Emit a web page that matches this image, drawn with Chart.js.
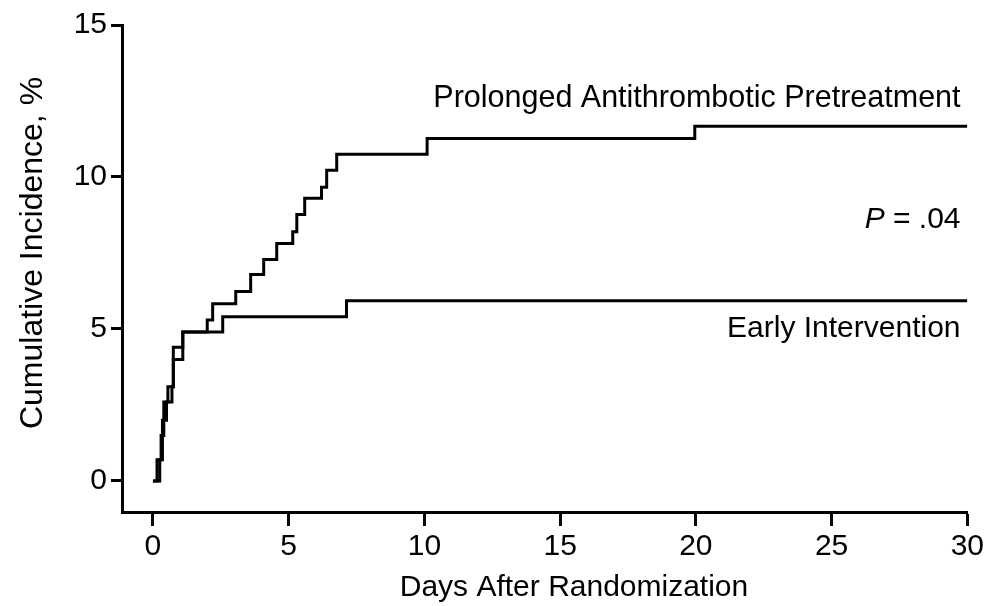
<!DOCTYPE html>
<html>
<head>
<meta charset="utf-8">
<script src="https://cdn.jsdelivr.net/npm/chart.js@4.4.1/dist/chart.umd.min.js"></script>
<style>
  html, body { margin: 0; padding: 0; background: #fff; }
  #wrap { width: 987px; height: 606px; position: relative; }
</style>
</head>
<body>
<div id="wrap"><canvas id="km"></canvas></div>
<script>
// step curves (days, cumulative %)
const prolongedDays = [0, 0.15, 0.3, 0.4, 0.55, 0.75, 1.1, 2.0, 2.2, 3.05, 3.6, 4.08, 4.56, 5.15, 5.3, 5.59, 6.21, 6.4, 6.77, 10.1, 19.96, 30];
const prolongedPct  = [0, 0.7, 1.5, 2.6, 3.1, 4.4, 4.9, 5.3, 5.83, 6.23, 6.79, 7.29, 7.81, 8.2, 8.77, 9.3, 9.66, 10.22, 10.75, 11.27, 11.67, 11.67];
const earlyDays = [0, 0.25, 0.35, 0.5, 0.7, 0.75, 1.1, 2.57, 7.13, 30];
const earlyPct  = [0, 0.7, 2.0, 2.6, 3.1, 4.0, 4.9, 5.4, 5.93, 5.93];

const xTicks = [0, 5, 10, 15, 20, 25, 30];
const yTicks = [0, 5, 10, 15];

const FONT = '"Liberation Sans", Arial, Helvetica, sans-serif';

function toPoints(xs, ys) {
    return xs.map((x, i) => ({x: x, y: ys[i]}));
}

// axis titles + curve labels
const labelsPlugin = {
    id: 'kmLabels',
    afterDraw(chart) {
        const ctx = chart.ctx;
        const xs = chart.scales.x, ys = chart.scales.y;
        ctx.save();
        ctx.fillStyle = '#000';

        // curve labels, right aligned
        ctx.textAlign = 'right';
        ctx.textBaseline = 'alphabetic';
        const rx = xs.getPixelForValue(29.75);
        ctx.font = '30.5px ' + FONT;
        ctx.fillText('Prolonged Antithrombotic Pretreatment', rx, ys.getPixelForValue(12.3));
        ctx.font = '30px ' + FONT;
        ctx.fillText('Early Intervention', rx, ys.getPixelForValue(4.74));

        // P value, italic P
        const pY = ys.getPixelForValue(8.32);
        const rest = ' = .04';
        const restW = ctx.measureText(rest).width;
        ctx.fillText(rest, rx, pY);
        ctx.font = 'italic 30px ' + FONT;
        ctx.fillText('P', rx - restW, pY);

        // axis titles
        ctx.font = '30px ' + FONT;
        ctx.textAlign = 'center';
        ctx.textBaseline = 'middle';
        ctx.fillText('Days After Randomization', 574, 588);

        ctx.font = '32px ' + FONT;
        ctx.translate(33, 253);
        ctx.rotate(-Math.PI / 2);
        ctx.fillText('Cumulative Incidence, %', 0, 0);
        ctx.restore();
    }
};

const lineStyle = {
    borderColor: '#000',
    borderWidth: 3,
    pointRadius: 0,
    stepped: 'before',
    fill: false
};

new Chart(document.getElementById('km'), {
    type: 'line',
    data: {
        datasets: [
            {label: 'Prolonged Antithrombotic Pretreatment', data: toPoints(prolongedDays, prolongedPct), ...lineStyle},
            {label: 'Early Intervention', data: toPoints(earlyDays, earlyPct), ...lineStyle}
        ]
    },
    plugins: [labelsPlugin],
    options: {
        responsive: true,
        maintainAspectRatio: false,
        animation: false,
        layout: {padding: {top: 25, right: 18, left: 0, bottom: 0}},
        plugins: {
            legend: {display: false},
            tooltip: {enabled: false}
        },
        scales: {
            x: {
                type: 'linear',
                min: -1.14,
                max: 30,
                afterBuildTicks: (axis) => { axis.ticks = xTicks.map(v => ({value: v})); },
                afterFit: (axis) => { axis.height = 94; },
                border: {display: true, color: '#000', width: 3},
                grid: {drawOnChartArea: false, drawTicks: true, tickLength: 14, tickWidth: 3, tickColor: '#000'},
                ticks: {color: '#000', font: {family: FONT, size: 30}, padding: 3, maxRotation: 0}
            },
            y: {
                type: 'linear',
                min: -1.02,
                max: 15,
                afterBuildTicks: (axis) => { axis.ticks = yTicks.map(v => ({value: v})); },
                afterFit: (axis) => { axis.width = 122; },
                border: {display: true, color: '#000', width: 3},
                grid: {drawOnChartArea: false, drawTicks: true, tickLength: 11, tickWidth: 3, tickColor: '#000'},
                ticks: {color: '#000', font: {family: FONT, size: 30}, padding: 4}
            }
        }
    }
});
</script>
</body>
</html>
